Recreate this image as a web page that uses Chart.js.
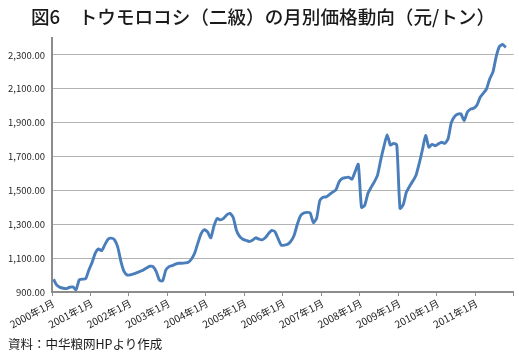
<!DOCTYPE html>
<html><head><meta charset="utf-8">
<script src="https://cdn.jsdelivr.net/npm/chart.js@4.4.1/dist/chart.umd.min.js"></script>
<style>
html,body{margin:0;padding:0;background:#fff;}
#wrap{position:relative;width:519px;height:356px;overflow:hidden;}
#c{position:absolute;left:0;top:0;}
#title{position:absolute;left:0;top:5px;width:526px;text-align:center;font:500 18.6px/22px "Noto Sans CJK JP";color:#1a1a1a;white-space:nowrap;}
#src{position:absolute;left:8px;top:335px;font:12.5px/18px "Noto Sans CJK JP";color:#1a1a1a;white-space:nowrap;}
</style></head><body>
<div id="wrap"><canvas id="c" width="519" height="356"></canvas>
<div id="title">図6　トウモロコシ（二級）の月別価格動向（元/トン）</div>
<div id="src">資料：中华粮网HPより作成</div></div>
<script>
// ---- data ----
const years = [2000, 2001, 2002, 2003, 2004, 2005, 2006, 2007, 2008, 2009, 2010, 2011];
const months = [1, 2, 3, 4, 5, 6, 7, 8, 9, 10, 11, 12];
const categories = years.flatMap(y => months.map(m => y + '年' + m + '月'));

// monthly price, yuan/ton (Jan 2000 .. Oct 2011)
const price2000 = [975, 940, 927, 922, 920, 928, 930, 914, 972, 976, 978, 1030];
const price2001 = [1075, 1130, 1155, 1144, 1180, 1212, 1218, 1208, 1165, 1080, 1020, 1000];
const price2002 = [1002, 1007, 1014, 1022, 1030, 1042, 1052, 1050, 1020, 970, 966, 1030];
const price2003 = [1050, 1056, 1064, 1070, 1070, 1072, 1076, 1095, 1130, 1190, 1245, 1268];
const price2004 = [1255, 1220, 1290, 1334, 1326, 1335, 1356, 1364, 1340, 1265, 1228, 1212];
const price2005 = [1205, 1198, 1205, 1220, 1212, 1208, 1220, 1245, 1264, 1256, 1215, 1176];
const price2006 = [1177, 1182, 1200, 1235, 1300, 1350, 1366, 1370, 1366, 1310, 1335, 1440];
const price2007 = [1460, 1462, 1475, 1490, 1502, 1550, 1570, 1575, 1578, 1566, 1610, 1654];
const price2008 = [1400, 1412, 1482, 1518, 1550, 1590, 1680, 1760, 1828, 1768, 1778, 1768];
const price2009 = [1394, 1415, 1490, 1525, 1555, 1590, 1660, 1740, 1825, 1755, 1772, 1764];
const price2010 = [1775, 1784, 1778, 1805, 1900, 1936, 1950, 1952, 1912, 1962, 1980, 1985];
const price2011 = [2004, 2050, 2074, 2100, 2160, 2200, 2290, 2350, 2362, 2344];
const prices = [].concat(price2000, price2001, price2002, price2003, price2004, price2005,
  price2006, price2007, price2008, price2009, price2010, price2011);

const yTickValues = [900, 1100, 1300, 1500, 1700, 1900, 2100, 2300];
const yMin = 900, yMax = 2400;

// ---- chart ----
const FONT = '"Noto Sans CJK JP", "Noto Sans", sans-serif';
new Chart(document.getElementById('c'), {
  type: 'line',
  data: {
    labels: categories,
    datasets: [{
      data: prices,
      borderColor: '#4a7ebb',
      backgroundColor: '#4a7ebb',
      borderWidth: 2.9,
      pointRadius: 0,
      tension: 0.2,
      fill: false
    }]
  },
  options: {
    responsive: false,
    animation: false,
    devicePixelRatio: 1,
    layout: { padding: { top: 38, right: 5, bottom: 0, left: 0 } },
    plugins: { legend: { display: false }, tooltip: { enabled: false }, title: { display: false } },
    scales: {
      x: {
        type: 'category',
        offset: true,
        grid: {
          offset: true,
          drawOnChartArea: false,
          drawTicks: true,
          tickLength: 4,
          color: '#8c8c8c',
          tickColor: (ctx) => (ctx.index === undefined || ctx.index % 12 === 0) ? '#8c8c8c' : 'rgba(0,0,0,0)'
        },
        border: { display: true, color: '#8c8c8c', width: 2 },
        ticks: {
          autoSkip: false,
          minRotation: 28,
          maxRotation: 28,
          padding: 1,
          color: '#262626',
          font: { family: FONT, size: 10.2 },
          callback: function (v, i) { return i % 12 === 0 ? categories[i] : ''; }
        },
        afterFit: (s) => { s.height = 64; }
      },
      y: {
        min: yMin,
        max: yMax,
        grid: { color: '#b3b3b3', lineWidth: 1, drawTicks: false },
        border: { display: true, color: '#8c8c8c', width: 2 },
        afterBuildTicks: (s) => { s.ticks = yTickValues.map(v => ({ value: v })); },
        ticks: {
          padding: 7,
          color: '#262626',
          font: { family: FONT, size: 9.5 },
          callback: (v) => Number(v).toLocaleString('en-US', { minimumFractionDigits: 2, maximumFractionDigits: 2 })
        },
        afterFit: (s) => { s.width = 52; }
      }
    }
  }
});
</script>
</body></html>
